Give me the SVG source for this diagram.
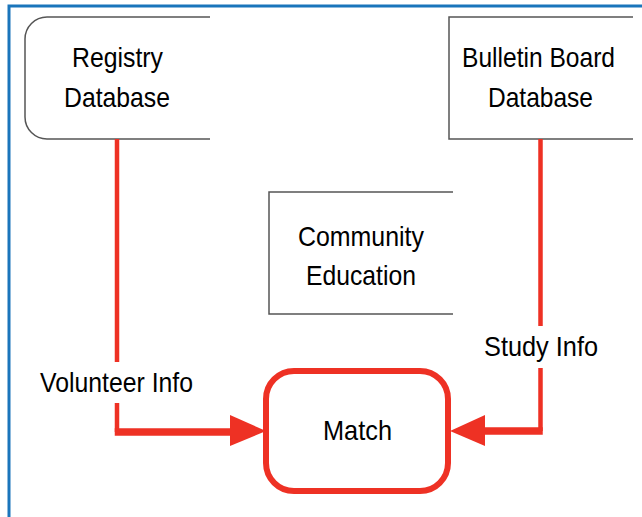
<svg xmlns="http://www.w3.org/2000/svg" width="642" height="517" viewBox="0 0 642 517">
<style>
.t{font-family:"Liberation Sans",Arial,sans-serif;font-size:28px;fill:#000}
.store{fill:none;stroke:#555;stroke-width:1.5}
.red{stroke:#EE3124;fill:none}
.head{fill:#EE3124}
</style>
<rect width="642" height="517" fill="#fff"/>
<g id="frame">
<path d="M9,517 V6 H642" fill="none" stroke="#1A75BB" stroke-width="3"/>
</g>
<g id="registry">
<path class="store" d="M210,17 H47 A22,22 0 0 0 25,39 V117 A22,22 0 0 0 47,139 H210"/>
<text class="t" x="72" y="67" textLength="91" lengthAdjust="spacingAndGlyphs">Registry</text>
<text class="t" x="64" y="107" textLength="106" lengthAdjust="spacingAndGlyphs">Database</text>
</g>
<g id="bulletin">
<path class="store" d="M633,17 H449 V139 H633"/>
<text class="t" x="462" y="67" textLength="153" lengthAdjust="spacingAndGlyphs">Bulletin Board</text>
<text class="t" x="488" y="107" textLength="105" lengthAdjust="spacingAndGlyphs">Database</text>
</g>
<g id="community">
<path class="store" d="M453,192 H269 V314 H453"/>
<text class="t" x="298" y="246" textLength="126" lengthAdjust="spacingAndGlyphs">Community</text>
<text class="t" x="306" y="285" textLength="110" lengthAdjust="spacingAndGlyphs">Education</text>
</g>
<g id="match">
<rect x="266" y="371" width="182" height="120" rx="28" class="red" stroke-width="6"/>
<text class="t" x="323" y="440" textLength="69" lengthAdjust="spacingAndGlyphs">Match</text>
</g>
<g id="connectors">
<path class="red" stroke-width="4.5" d="M117,139 V362 M117,403 V432"/>
<path class="red" stroke-width="7.5" d="M114.75,432 H232"/>
<polygon class="head" points="266,431 230,415 230,446"/>
<path class="red" stroke-width="4.5" d="M540.5,139 V326 M540.5,368 V431"/>
<path class="red" stroke-width="7.5" d="M542.75,431 H482"/>
<polygon class="head" points="450,431 485,415 485,446"/>
<text class="t" x="40" y="392" textLength="153" lengthAdjust="spacingAndGlyphs">Volunteer Info</text>
<text class="t" x="484" y="356" textLength="114" lengthAdjust="spacingAndGlyphs">Study Info</text>
</g>
</svg>
